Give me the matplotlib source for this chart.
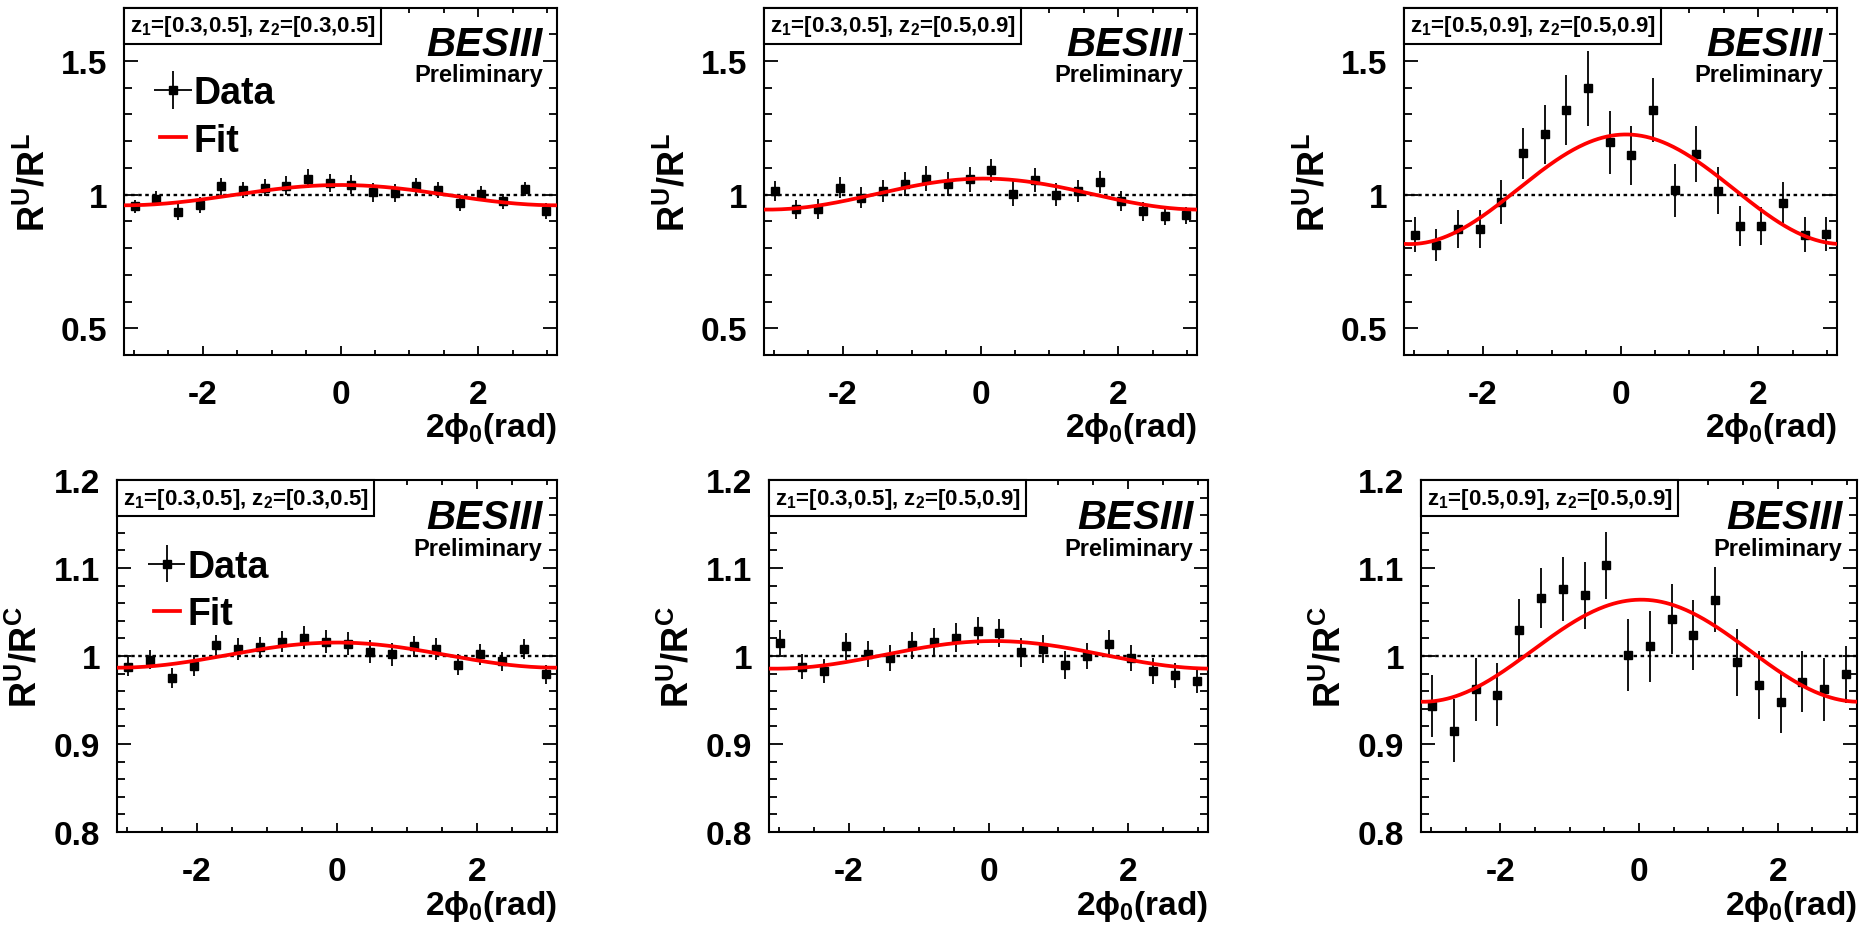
import numpy as np
import matplotlib
matplotlib.use("Agg")
import matplotlib.pyplot as plt
from matplotlib.ticker import MultipleLocator, FormatStrFormatter
from matplotlib.offsetbox import AnchoredText

plt.rcParams['font.family'] = ['Liberation Sans', 'DejaVu Sans']
plt.rcParams['font.weight'] = 'bold'
plt.rcParams['axes.labelweight'] = 'bold'
plt.rcParams['mathtext.fontset'] = 'custom'
plt.rcParams['mathtext.rm'] = 'Liberation Sans:bold'
plt.rcParams['mathtext.bf'] = 'Liberation Sans:bold'
plt.rcParams['mathtext.it'] = 'Liberation Sans:bold:italic'
plt.rcParams['mathtext.default'] = 'bf'

# bin centres in 2phi0 (rad), 20 bins
phi_bins = [-2.985, -2.670, -2.356, -2.042, -1.728, -1.414, -1.100, -0.785, -0.471, -0.157,
            0.157, 0.471, 0.785, 1.100, 1.414, 1.728, 2.042, 2.356, 2.670, 2.985]
no_xerr = [0.0] * 20

# R^U/R^L
ul_a = [0.956, 0.985, 0.935, 0.962, 1.031, 1.016, 1.025, 1.034, 1.060, 1.044,
        1.037, 1.009, 1.006, 1.031, 1.016, 0.969, 1.004, 0.975, 1.022, 0.940]
ul_a_err = [0.025, 0.028, 0.030, 0.030, 0.033, 0.030, 0.032, 0.034, 0.037, 0.034,
            0.035, 0.036, 0.035, 0.031, 0.030, 0.030, 0.028, 0.028, 0.027, 0.030]
ul_b = [1.014, 0.945, 0.945, 1.026, 0.989, 1.014, 1.039, 1.060, 1.041, 1.057,
        1.091, 1.004, 1.054, 1.000, 1.014, 1.047, 0.976, 0.937, 0.919, 0.922]
ul_b_err = [0.038, 0.036, 0.038, 0.040, 0.040, 0.042, 0.044, 0.046, 0.045, 0.046,
            0.043, 0.046, 0.044, 0.043, 0.042, 0.040, 0.037, 0.036, 0.034, 0.033]
ul_c = [0.850, 0.812, 0.872, 0.872, 0.972, 1.154, 1.225, 1.316, 1.397, 1.195,
        1.147, 1.316, 1.016, 1.151, 1.014, 0.882, 0.882, 0.970, 0.850, 0.854]
ul_c_err = [0.065, 0.061, 0.070, 0.072, 0.083, 0.094, 0.110, 0.130, 0.140, 0.117,
            0.110, 0.120, 0.098, 0.105, 0.088, 0.076, 0.070, 0.077, 0.066, 0.064]

# R^U/R^C
uc_a = [0.988, 0.996, 0.975, 0.989, 1.012, 1.008, 1.010, 1.016, 1.021, 1.016,
        1.014, 1.005, 1.002, 1.011, 1.008, 0.990, 1.002, 0.994, 1.008, 0.979]
uc_a_err = [0.011, 0.011, 0.011, 0.012, 0.012, 0.012, 0.012, 0.012, 0.013, 0.013,
            0.013, 0.013, 0.013, 0.012, 0.012, 0.012, 0.012, 0.011, 0.011, 0.011]
uc_b = [1.015, 0.988, 0.983, 1.011, 1.002, 0.998, 1.012, 1.016, 1.021, 1.028,
        1.026, 1.004, 1.008, 0.990, 1.000, 1.014, 0.998, 0.983, 0.978, 0.972]
uc_b_err = [0.014, 0.014, 0.014, 0.015, 0.015, 0.015, 0.015, 0.016, 0.016, 0.016,
            0.016, 0.016, 0.016, 0.016, 0.015, 0.015, 0.015, 0.015, 0.014, 0.014]
uc_c = [0.943, 0.915, 0.962, 0.956, 1.030, 1.066, 1.076, 1.069, 1.103, 1.001,
        1.011, 1.042, 1.024, 1.064, 0.993, 0.967, 0.948, 0.971, 0.962, 0.979]
uc_c_err = [0.035, 0.036, 0.036, 0.036, 0.035, 0.034, 0.036, 0.038, 0.038, 0.041,
            0.040, 0.040, 0.040, 0.037, 0.038, 0.039, 0.035, 0.035, 0.036, 0.032]

# fit: p0 + p1*cos(2phi0 - p2)
fit_p0 = [0.998, 1.002, 1.020, 1.001, 1.0013, 1.006]
fit_p1 = [0.038, 0.058, 0.205, 0.0143, 0.0157, 0.058]
fit_p2 = [0.0, 0.05, 0.08, 0.0, 0.08, 0.03]

z_labels = ['z$_1$=[0.3,0.5], z$_2$=[0.3,0.5]',
            'z$_1$=[0.3,0.5], z$_2$=[0.5,0.9]',
            'z$_1$=[0.5,0.9], z$_2$=[0.5,0.9]']

W, H = 1868, 928
fig = plt.figure(figsize=(W / 100, H / 100), dpi=100)

# axes boxes in pixels: left, top, right, bottom
rects = [(124, 8.5, 557, 356), (764, 8.5, 1197, 356), (1404, 8.5, 1837, 356),
         (117, 481, 557, 833), (769, 481, 1208, 833), (1421, 481, 1857, 833)]
ys = [ul_a, ul_b, ul_c, uc_a, uc_b, uc_c]
errs = [ul_a_err, ul_b_err, ul_c_err, uc_a_err, uc_b_err, uc_c_err]

xs = np.linspace(-np.pi, np.pi, 300)

for i in range(6):
    l, t, r, b = rects[i]
    ax = fig.add_axes([l / W, 1 - b / H, (r - l) / W, (b - t) / H])
    top_row = i < 3

    eb = ax.errorbar(phi_bins, ys[i], yerr=errs[i], xerr=no_xerr, fmt='s', color='black',
                     ms=5.5, elinewidth=1.3, capsize=0, zorder=3)
    fit_line, = ax.plot(xs, fit_p0[i] + fit_p1[i] * np.cos(xs - fit_p2[i]),
                        color='red', lw=2.7, zorder=4)
    ax.axhline(1.0, color='black', lw=1.7, ls=(0, (1.5, 1.5)), zorder=2)

    ax.set_xlim(-np.pi, np.pi)
    if top_row:
        ax.set_ylim(0.4, 1.7)
        ax.yaxis.set_major_locator(MultipleLocator(0.5))
        ax.yaxis.set_minor_locator(MultipleLocator(0.1))
        ax.set_ylabel('R$^U$/R$^L$', fontsize=26)
    else:
        ax.set_ylim(0.8, 1.2)
        ax.yaxis.set_major_locator(MultipleLocator(0.1))
        ax.yaxis.set_minor_locator(MultipleLocator(0.02))
        ax.set_ylabel('R$^U$/R$^C$', fontsize=26)
    ax.xaxis.set_major_locator(MultipleLocator(2))
    ax.xaxis.set_minor_locator(MultipleLocator(0.5))
    ax.xaxis.set_major_formatter(FormatStrFormatter('%g'))
    ax.yaxis.set_major_formatter(FormatStrFormatter('%g'))

    ax.tick_params(axis='both', which='both', direction='in', top=True, right=True, width=1.3)
    ax.tick_params(axis='y', which='major', length=10, pad=12, labelsize=24)
    ax.tick_params(axis='y', which='minor', length=5.8)
    ax.tick_params(axis='x', which='major', length=6.5, pad=17, labelsize=24)
    ax.tick_params(axis='x', which='minor', length=3.3)
    for sp in ax.spines.values():
        sp.set_linewidth(1.5)

    ax.set_xlabel('2ϕ$_0$(rad)', fontsize=24)
    ax.xaxis.set_label_coords(1.0, -0.21)
    ax.xaxis.label.set_ha('right')
    ax.xaxis.label.set_va('center')
    ax.yaxis.set_label_coords(-0.207, 0.5)
    ax.yaxis.label.set_va('center')

    at = AnchoredText(z_labels[i % 3], loc='upper left', frameon=True, borderpad=0,
                      pad=0.25, prop=dict(size=16, weight='bold'))
    at.patch.set_boxstyle('square,pad=0')
    at.patch.set_linewidth(1.5)
    ax.add_artist(at)

    ax.text(0.967, 0.895, 'BESIII', transform=ax.transAxes, ha='right', va='center',
            fontsize=29, fontstyle='italic', fontweight='bold')
    ax.text(0.967, 0.806, 'Preliminary', transform=ax.transAxes, ha='right', va='center',
            fontsize=17, fontweight='bold')

    if i % 3 == 0:
        ax.legend([eb, fit_line], ['Data', 'Fit'], loc='upper left',
                  bbox_to_anchor=(0.083, 0.805), frameon=False, fontsize=27,
                  borderpad=0, borderaxespad=0, handlelength=0.7,
                  handletextpad=0.2, labelspacing=0.3)

fig.savefig('out.png', dpi=100)
